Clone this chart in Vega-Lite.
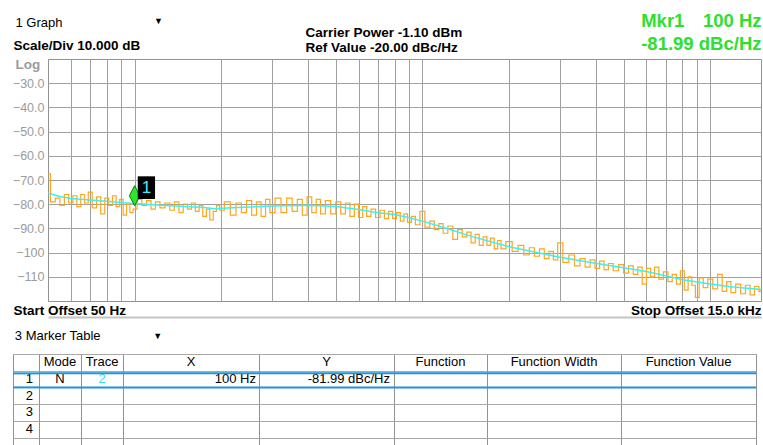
{
  "$schema": "https://vega.github.io/schema/vega-lite/v6.json",
  "background": "white",
  "padding": {"left": 11, "top": 10, "right": 2, "bottom": 0},
  "config": {
    "font": "Liberation Sans",
    "view": {"stroke": "#929292", "strokeWidth": 1},
    "axisBand": {"labels": false, "ticks": false, "domain": false, "grid": true, "tickBand": "extent", "gridColor": "#a8a8a8", "gridOpacity": 1, "minExtent": 0, "maxExtent": 0}
  },
  "datasets": {
    "trace": [
      {"f":50,"db":-67.5},{"f":52,"db":-79},{"f":54,"db":-77.5},{"f":56,"db":-80.5},{"f":58,"db":-76},{"f":60,"db":-79.5},{"f":62,"db":-76.5},{"f":64,"db":-81},{"f":66,"db":-76},{"f":68,"db":-79.5},
      {"f":70,"db":-75},{"f":72.5,"db":-81.5},{"f":75,"db":-77},{"f":77.5,"db":-84},{"f":80,"db":-77.5},{"f":82.5,"db":-80.5},{"f":85,"db":-76.5},{"f":87.5,"db":-81},{"f":90,"db":-78},{"f":92.5,"db":-84.5},
      {"f":95,"db":-80},{"f":97.5,"db":-83.5},{"f":100,"db":-82},{"f":104,"db":-78},{"f":108,"db":-80.5},{"f":112,"db":-78.5},{"f":116,"db":-82},{"f":120,"db":-79},{"f":125,"db":-81.5},{"f":130,"db":-79.5},
      {"f":135,"db":-82.5},{"f":140,"db":-79},{"f":145,"db":-83.5},{"f":150,"db":-80},{"f":155,"db":-82},{"f":160,"db":-79.5},{"f":165,"db":-83},{"f":170,"db":-80.5},{"f":175,"db":-85},{"f":180,"db":-82},
      {"f":185,"db":-86.5},{"f":190,"db":-83},{"f":195,"db":-80.5},{"f":200,"db":-82.5},{"f":210,"db":-79},{"f":220,"db":-84.5},{"f":230,"db":-79.5},{"f":240,"db":-83.5},{"f":250,"db":-78.5},{"f":260,"db":-84.5},
      {"f":270,"db":-79},{"f":280,"db":-85},{"f":290,"db":-78},{"f":300,"db":-83.5},{"f":315,"db":-77.5},{"f":330,"db":-83.5},{"f":345,"db":-77.5},{"f":360,"db":-83},{"f":375,"db":-78},{"f":390,"db":-84.5},
      {"f":405,"db":-77},{"f":420,"db":-83.5},{"f":435,"db":-78},{"f":450,"db":-84},{"f":470,"db":-78.5},{"f":490,"db":-84},{"f":510,"db":-79},{"f":530,"db":-84},{"f":550,"db":-79.5},{"f":570,"db":-85},
      {"f":590,"db":-80},{"f":610,"db":-85.5},{"f":630,"db":-81},{"f":650,"db":-85},{"f":675,"db":-82},{"f":700,"db":-85.5},{"f":725,"db":-82.5},{"f":750,"db":-86},{"f":775,"db":-83},{"f":800,"db":-86},
      {"f":825,"db":-83.5},{"f":850,"db":-87},{"f":875,"db":-84},{"f":900,"db":-87.5},{"f":930,"db":-85},{"f":960,"db":-88.5},{"f":1000,"db":-83},{"f":1040,"db":-89.5},{"f":1080,"db":-87},{"f":1120,"db":-90.5},
      {"f":1160,"db":-88},{"f":1200,"db":-92},{"f":1250,"db":-89},{"f":1300,"db":-94.5},{"f":1350,"db":-90.5},{"f":1400,"db":-93.5},{"f":1450,"db":-91.5},{"f":1500,"db":-96},{"f":1550,"db":-92.5},{"f":1600,"db":-97},
      {"f":1650,"db":-93.5},{"f":1700,"db":-97},{"f":1750,"db":-94},{"f":1800,"db":-98.5},{"f":1850,"db":-95},{"f":1900,"db":-98.5},{"f":2000,"db":-95.5},{"f":2100,"db":-99.5},{"f":2200,"db":-97},{"f":2300,"db":-101},
      {"f":2400,"db":-98},{"f":2500,"db":-101.5},{"f":2600,"db":-98.5},{"f":2700,"db":-102.5},{"f":2800,"db":-99.5},{"f":2900,"db":-103},{"f":3000,"db":-96},{"f":3150,"db":-104},{"f":3300,"db":-101},{"f":3450,"db":-105.5},
      {"f":3600,"db":-102.5},{"f":3750,"db":-106},{"f":3900,"db":-103},{"f":4050,"db":-106.5},{"f":4200,"db":-103.5},{"f":4350,"db":-107},{"f":4500,"db":-104.5},{"f":4700,"db":-107.5},{"f":4900,"db":-105},{"f":5100,"db":-108.5},
      {"f":5300,"db":-105.5},{"f":5500,"db":-109},{"f":5700,"db":-106},{"f":5900,"db":-113},{"f":6100,"db":-106.5},{"f":6300,"db":-110},{"f":6500,"db":-106},{"f":6750,"db":-111},{"f":7000,"db":-108},{"f":7250,"db":-112},
      {"f":7500,"db":-109},{"f":7750,"db":-113},{"f":8000,"db":-107.5},{"f":8250,"db":-115.5},{"f":8500,"db":-110},{"f":8750,"db":-113.5},{"f":9000,"db":-118.5},{"f":9300,"db":-110.5},{"f":9600,"db":-114.5},{"f":10000,"db":-111},
      {"f":10400,"db":-115},{"f":10800,"db":-109},{"f":11200,"db":-116},{"f":11600,"db":-112},{"f":12000,"db":-116.5},{"f":12500,"db":-113},{"f":13000,"db":-117},{"f":13500,"db":-113.5},{"f":14000,"db":-117.5},{"f":14500,"db":-114},
      {"f":15000,"db":-116}
    ],
    "avg": [
      {"f":50,"db":-75.5},{"f":55,"db":-76.8},{"f":60,"db":-77.6},{"f":70,"db":-78.3},{"f":80,"db":-78.8},{"f":90,"db":-79.3},{"f":100,"db":-79.7},{"f":120,"db":-80.3},{"f":150,"db":-80.9},{"f":175,"db":-81.4},
      {"f":190,"db":-81.9},{"f":210,"db":-81.6},{"f":250,"db":-81.2},{"f":300,"db":-80.7},{"f":400,"db":-80.4},{"f":500,"db":-81.0},{"f":600,"db":-82.2},{"f":700,"db":-83.5},{"f":800,"db":-84.3},{"f":900,"db":-85.6},
      {"f":1000,"db":-87.0},{"f":1200,"db":-89.8},{"f":1500,"db":-93.5},{"f":2000,"db":-97.6},{"f":2500,"db":-100.0},{"f":3000,"db":-101.9},{"f":4000,"db":-104.4},{"f":5000,"db":-106.3},{"f":6000,"db":-107.8},{"f":7000,"db":-109.6},
      {"f":8000,"db":-111.2},{"f":10000,"db":-113.0},{"f":12000,"db":-114.2},{"f":15000,"db":-115.2}
    ],
    "marker": [{"f":100,"db":-81.99,"label":"1"}],
    "table": [
      {"row":"H","num":"","mode":"Mode","trace":"Trace","x":"X","y":"Y","fn":"Function","fw":"Function Width","fv":"Function Value"},
      {"row":"1","num":"1","mode":"N","trace":"2","x":"100 Hz","y":"-81.99 dBc/Hz","fn":"","fw":"","fv":""},
      {"row":"2","num":"2","mode":"","trace":"","x":"","y":"","fn":"","fw":"","fv":""},
      {"row":"3","num":"3","mode":"","trace":"","x":"","y":"","fn":"","fw":"","fv":""},
      {"row":"4","num":"4","mode":"","trace":"","x":"","y":"","fn":"","fw":"","fv":""},
      {"row":"5","num":"","mode":"","trace":"","x":"","y":"","fn":"","fw":"","fv":""}
    ]
  },
  "spacing": 10,
  "vconcat": [
    {
      "spacing": 0,
      "bounds": "flush",
      "hconcat": [
        {
          "width": 35, "height": 242, "view": {"stroke": null},
          "data": {"values": [{"pad": ""}]},
          "mark": {"type": "text"},
          "encoding": {"text": {"field": "pad"}}
        },
        {
          "width": 713,
          "height": 242,
          "resolve": {"axis": {"x": "independent", "y": "independent"}},
          "layer": [
            {
              "data": {"name": "trace"},
              "mark": {"type": "line", "interpolate": "step", "color": "#ffa51f", "strokeWidth": 1.2, "clip": true},
              "encoding": {
                "x": {"field": "f", "type": "quantitative", "scale": {"type": "log", "domain": [50, 15000], "nice": false},
                  "axis": {"orient": "bottom", "values": [60,70,80,90,100,200,300,400,500,600,700,800,900,1000,2000,3000,4000,5000,6000,7000,8000,9000,10000],
                    "labels": false, "ticks": false, "domain": false, "grid": true, "gridColor": "#a0a0a0", "gridOpacity": 1,
                    "title": "Start Offset 50 Hz", "titleX": -35, "titleY": 13, "titleAlign": "left", "titleBaseline": "alphabetic", "titleAngle": 0,
                    "titleFontSize": 13.5, "titleFontWeight": "bold", "titleColor": "#000"}},
                "y": {"field": "db", "type": "quantitative", "scale": {"domain": [-120, -20], "nice": false, "zero": false},
                  "axis": {"orient": "left", "values": [-110,-100,-90,-80,-70,-60,-50,-40,-30],
                    "labelExpr": "datum.value <= -100 ? format(datum.value, 'd') : format(datum.value, '.1f')",
                    "ticks": false, "domain": false, "grid": true, "gridColor": "#a0a0a0", "gridOpacity": 1,
                    "labelColor": "#9b9b9b", "labelFontSize": 12.5, "labelPadding": 4,
                    "title": "Log", "titleX": -33, "titleY": 9, "titleAlign": "left", "titleBaseline": "alphabetic", "titleAngle": 0,
                    "titleFontSize": 13.5, "titleFontWeight": "bold", "titleColor": "#9b9b9b"}}
              }
            },
            {
              "data": {"name": "avg"},
              "mark": {"type": "line", "color": "#3ef0f0", "strokeWidth": 1.5, "clip": true},
              "encoding": {
                "x": {"field": "f", "type": "quantitative", "scale": {"type": "log", "domain": [50, 15000], "nice": false},
                  "axis": {"orient": "top", "labels": false, "ticks": false, "domain": false, "grid": false,
                    "title": ["Carrier Power -1.10 dBm", "Ref Value -20.00 dBc/Hz"], "titleX": 257, "titleY": -23, "titleAlign": "left",
                    "titleBaseline": "alphabetic", "titleAngle": 0, "titleLineHeight": 15, "titleFontSize": 13.5, "titleFontWeight": "bold", "titleColor": "#000"}},
                "y": {"field": "db", "type": "quantitative", "scale": {"domain": [-120, -20], "nice": false, "zero": false},
                  "axis": {"orient": "right", "labels": false, "ticks": false, "domain": false, "grid": false,
                    "title": ["Mkr1\u2002\u2002100 Hz", "-81.99 dBc/Hz"], "titleX": 0, "titleY": -33, "titleAlign": "right",
                    "titleBaseline": "alphabetic", "titleAngle": 0, "titleLineHeight": 23.5, "titleFontSize": 18.5, "titleFontWeight": "bold", "titleColor": "#2ee02e"}}
              }
            },
            {
              "data": {"name": "marker"},
              "mark": {"type": "point", "shape": "M0,-2.33L0.53,-1.33L0,-0.33L-0.53,-1.33Z", "filled": true, "size": 400, "fill": "#2ee62e", "stroke": "#0b7a0b", "strokeWidth": 1, "opacity": 1},
              "encoding": {
                "x": {"field": "f", "type": "quantitative", "scale": {"type": "log", "domain": [50, 15000], "nice": false},
                  "axis": {"orient": "bottom", "offset": 16, "labels": false, "ticks": false, "domain": true, "domainColor": "#c4c4c4", "domainWidth": 2, "grid": false,
                    "title": "Stop Offset 15.0 kHz", "titleX": 713, "titleY": -3, "titleAlign": "right", "titleBaseline": "alphabetic", "titleAngle": 0,
                    "titleFontSize": 13.5, "titleFontWeight": "bold", "titleColor": "#000"}},
                "y": {"field": "db", "type": "quantitative", "scale": {"domain": [-120, -20], "nice": false, "zero": false},
                  "axis": {"orient": "left", "labels": false, "ticks": false, "domain": false, "grid": false,
                    "title": "▼", "titleX": 110, "titleY": -36, "titleAlign": "center", "titleBaseline": "alphabetic", "titleAngle": 0,
                    "titleFontSize": 9, "titleFontWeight": "normal", "titleColor": "#000"}}
              }
            },
            {
              "data": {"name": "marker"},
              "mark": {"type": "point", "shape": "M0.31,-3.27L2.04,-3.27L2.04,-1L0.31,-1Z", "filled": true, "size": 400, "fill": "#000", "opacity": 1},
              "encoding": {
                "x": {"field": "f", "type": "quantitative", "scale": {"type": "log", "domain": [50, 15000], "nice": false},
                  "axis": {"orient": "top", "labels": false, "ticks": false, "domain": false, "grid": false,
                    "title": "Scale/Div 10.000 dB", "titleX": -35, "titleY": -10, "titleAlign": "left", "titleBaseline": "alphabetic", "titleAngle": 0,
                    "titleFontSize": 13.5, "titleFontWeight": "bold", "titleColor": "#000"}},
                "y": {"field": "db", "type": "quantitative", "scale": {"domain": [-120, -20], "nice": false, "zero": false}, "axis": null}
              }
            },
            {
              "data": {"name": "marker"},
              "mark": {"type": "text", "color": "#3ff0f5", "fontSize": 17, "dx": 11.8, "dy": -21, "align": "center", "baseline": "middle"},
              "encoding": {
                "text": {"field": "label"},
                "x": {"field": "f", "type": "quantitative", "scale": {"type": "log", "domain": [50, 15000], "nice": false},
                  "axis": {"orient": "top", "labels": false, "ticks": false, "domain": false, "grid": false,
                    "title": "1 Graph", "titleX": -33, "titleY": -33, "titleAlign": "left", "titleBaseline": "alphabetic", "titleAngle": 0,
                    "titleFontSize": 13, "titleFontWeight": "normal", "titleColor": "#000"}},
                "y": {"field": "db", "type": "quantitative", "scale": {"domain": [-120, -20], "nice": false, "zero": false}, "axis": null}
              }
            }
          ]
        }
      ]
    },
    {
      "spacing": 0,
      "bounds": "flush",
      "hconcat": [
        {
          "width": 26, "height": 100.2, "data": {"name": "table"},
          "layer": [
            {"mark": {"type": "text", "fontSize": 13, "align": "right", "dx": -6, "color": "#000"},
             "encoding": {"text": {"field": "num"},
               "x": {"datum": 1, "type": "quantitative", "scale": {"domain": [0, 1]},
                 "axis": {"orient": "top", "labels": false, "ticks": false, "domain": false, "grid": false, "minExtent": 0, "maxExtent": 0,
                   "title": "3 Marker Table", "titleX": 1.3, "titleY": -15, "titleAlign": "left", "titleBaseline": "alphabetic", "titleAngle": 0,
                   "titleFontSize": 13, "titleFontWeight": "normal", "titleColor": "#000"}},
               "y": {"field": "row", "type": "nominal", "scale": {"type": "band", "domain": ["H","1","2","3","4","5"], "paddingInner": 0, "paddingOuter": 0},
                 "axis": {"minExtent": 0, "maxExtent": 0, "title": "▼", "titleX": 144.3, "titleY": -15.5, "titleAlign": "center", "titleBaseline": "alphabetic", "titleAngle": 0, "titleFontSize": 9, "titleFontWeight": "normal", "titleColor": "#000"}}}},
            {"transform": [{"filter": "datum.row === '1'"}], "mark": {"type": "rule", "color": "#1f94d4", "strokeWidth": 2},
             "encoding": {"y": {"field": "row", "type": "nominal", "bandPosition": 0.16, "scale": {"type": "band"},
               "axis": {"minExtent": 0, "maxExtent": 0, "title": "▼", "titleX": 144.3, "titleY": -15.5, "titleAlign": "center", "titleBaseline": "alphabetic", "titleAngle": 0, "titleFontSize": 9, "titleFontWeight": "normal", "titleColor": "#000"}}}},
            {"transform": [{"filter": "datum.row === '1'"}], "mark": {"type": "rule", "color": "#1f94d4", "strokeWidth": 2},
             "encoding": {"y": {"field": "row", "type": "nominal", "bandPosition": 1, "scale": {"type": "band"},
               "axis": {"minExtent": 0, "maxExtent": 0, "title": "▼", "titleX": 144.3, "titleY": -15.5, "titleAlign": "center", "titleBaseline": "alphabetic", "titleAngle": 0, "titleFontSize": 9, "titleFontWeight": "normal", "titleColor": "#000"}}}}
          ]
        },
        {
          "width": 42, "height": 100.2, "data": {"name": "table"},
          "encoding": {"y": {"field": "row", "type": "nominal", "scale": {"type": "band", "domain": ["H","1","2","3","4","5"], "paddingInner": 0, "paddingOuter": 0}, "axis": {"title": null}}},
          "layer": [
            {"mark": {"type": "text", "fontSize": 13, "color": "#000"},
             "encoding": {"text": {"field": "mode"}, "x": {"datum": 0.5, "type": "quantitative", "scale": {"domain": [0, 1]}, "axis": null}}},
            {"transform": [{"filter": "datum.row === '1'"}], "mark": {"type": "rule", "color": "#1f94d4", "strokeWidth": 2},
             "encoding": {"y": {"field": "row", "type": "nominal", "bandPosition": 0.16, "scale": {"type": "band"}, "axis": {"title": null}}}},
            {"transform": [{"filter": "datum.row === '1'"}], "mark": {"type": "rule", "color": "#1f94d4", "strokeWidth": 2},
             "encoding": {"y": {"field": "row", "type": "nominal", "bandPosition": 1, "scale": {"type": "band"}, "axis": {"title": null}}}}
          ]
        },
        {
          "width": 42, "height": 100.2, "data": {"name": "table"},
          "encoding": {"y": {"field": "row", "type": "nominal", "scale": {"type": "band", "domain": ["H","1","2","3","4","5"], "paddingInner": 0, "paddingOuter": 0}, "axis": {"title": null}}},
          "layer": [
            {"mark": {"type": "text", "fontSize": 13},
             "encoding": {"text": {"field": "trace"}, "x": {"datum": 0.5, "type": "quantitative", "scale": {"domain": [0, 1]}, "axis": null},
               "color": {"condition": {"test": "datum.row === 'H'", "value": "#000"}, "value": "#2fe0ee"}}},
            {"transform": [{"filter": "datum.row === '1'"}], "mark": {"type": "rule", "color": "#1f94d4", "strokeWidth": 2},
             "encoding": {"y": {"field": "row", "type": "nominal", "bandPosition": 0.16, "scale": {"type": "band"}, "axis": {"title": null}}}},
            {"transform": [{"filter": "datum.row === '1'"}], "mark": {"type": "rule", "color": "#1f94d4", "strokeWidth": 2},
             "encoding": {"y": {"field": "row", "type": "nominal", "bandPosition": 1, "scale": {"type": "band"}, "axis": {"title": null}}}}
          ]
        },
        {
          "width": 136, "height": 100.2, "data": {"name": "table"},
          "encoding": {"y": {"field": "row", "type": "nominal", "scale": {"type": "band", "domain": ["H","1","2","3","4","5"], "paddingInner": 0, "paddingOuter": 0}, "axis": {"title": null}}},
          "layer": [
            {"transform": [{"filter": "datum.row === 'H'"}], "mark": {"type": "text", "fontSize": 13, "color": "#000"},
             "encoding": {"text": {"field": "x"}, "x": {"datum": 0.5, "type": "quantitative", "scale": {"domain": [0, 1]}, "axis": null}}},
            {"transform": [{"filter": "datum.row !== 'H'"}], "mark": {"type": "text", "fontSize": 13, "color": "#000", "align": "right", "dx": -3},
             "encoding": {"text": {"field": "x"}, "x": {"datum": 1, "type": "quantitative", "scale": {"domain": [0, 1]}, "axis": null}}},
            {"transform": [{"filter": "datum.row === '1'"}], "mark": {"type": "rule", "color": "#1f94d4", "strokeWidth": 2},
             "encoding": {"y": {"field": "row", "type": "nominal", "bandPosition": 0.16, "scale": {"type": "band"}, "axis": {"title": null}}}},
            {"transform": [{"filter": "datum.row === '1'"}], "mark": {"type": "rule", "color": "#1f94d4", "strokeWidth": 2},
             "encoding": {"y": {"field": "row", "type": "nominal", "bandPosition": 1, "scale": {"type": "band"}, "axis": {"title": null}}}}
          ]
        },
        {
          "width": 135, "height": 100.2, "data": {"name": "table"},
          "encoding": {"y": {"field": "row", "type": "nominal", "scale": {"type": "band", "domain": ["H","1","2","3","4","5"], "paddingInner": 0, "paddingOuter": 0}, "axis": {"title": null}}},
          "layer": [
            {"transform": [{"filter": "datum.row === 'H'"}], "mark": {"type": "text", "fontSize": 13, "color": "#000"},
             "encoding": {"text": {"field": "y"}, "x": {"datum": 0.5, "type": "quantitative", "scale": {"domain": [0, 1]}, "axis": null}}},
            {"transform": [{"filter": "datum.row !== 'H'"}], "mark": {"type": "text", "fontSize": 13, "color": "#000", "align": "right", "dx": -4},
             "encoding": {"text": {"field": "y"}, "x": {"datum": 1, "type": "quantitative", "scale": {"domain": [0, 1]}, "axis": null}}},
            {"transform": [{"filter": "datum.row === '1'"}], "mark": {"type": "rule", "color": "#1f94d4", "strokeWidth": 2},
             "encoding": {"y": {"field": "row", "type": "nominal", "bandPosition": 0.16, "scale": {"type": "band"}, "axis": {"title": null}}}},
            {"transform": [{"filter": "datum.row === '1'"}], "mark": {"type": "rule", "color": "#1f94d4", "strokeWidth": 2},
             "encoding": {"y": {"field": "row", "type": "nominal", "bandPosition": 1, "scale": {"type": "band"}, "axis": {"title": null}}}}
          ]
        },
        {
          "width": 93, "height": 100.2, "data": {"name": "table"},
          "encoding": {"y": {"field": "row", "type": "nominal", "scale": {"type": "band", "domain": ["H","1","2","3","4","5"], "paddingInner": 0, "paddingOuter": 0}, "axis": {"title": null}}},
          "layer": [
            {"mark": {"type": "text", "fontSize": 13, "color": "#000"},
             "encoding": {"text": {"field": "fn"}, "x": {"datum": 0.5, "type": "quantitative", "scale": {"domain": [0, 1]}, "axis": null}}},
            {"transform": [{"filter": "datum.row === '1'"}], "mark": {"type": "rule", "color": "#1f94d4", "strokeWidth": 2},
             "encoding": {"y": {"field": "row", "type": "nominal", "bandPosition": 0.16, "scale": {"type": "band"}, "axis": {"title": null}}}},
            {"transform": [{"filter": "datum.row === '1'"}], "mark": {"type": "rule", "color": "#1f94d4", "strokeWidth": 2},
             "encoding": {"y": {"field": "row", "type": "nominal", "bandPosition": 1, "scale": {"type": "band"}, "axis": {"title": null}}}}
          ]
        },
        {
          "width": 134, "height": 100.2, "data": {"name": "table"},
          "encoding": {"y": {"field": "row", "type": "nominal", "scale": {"type": "band", "domain": ["H","1","2","3","4","5"], "paddingInner": 0, "paddingOuter": 0}, "axis": {"title": null}}},
          "layer": [
            {"mark": {"type": "text", "fontSize": 13, "color": "#000"},
             "encoding": {"text": {"field": "fw"}, "x": {"datum": 0.5, "type": "quantitative", "scale": {"domain": [0, 1]}, "axis": null}}},
            {"transform": [{"filter": "datum.row === '1'"}], "mark": {"type": "rule", "color": "#1f94d4", "strokeWidth": 2},
             "encoding": {"y": {"field": "row", "type": "nominal", "bandPosition": 0.16, "scale": {"type": "band"}, "axis": {"title": null}}}},
            {"transform": [{"filter": "datum.row === '1'"}], "mark": {"type": "rule", "color": "#1f94d4", "strokeWidth": 2},
             "encoding": {"y": {"field": "row", "type": "nominal", "bandPosition": 1, "scale": {"type": "band"}, "axis": {"title": null}}}}
          ]
        },
        {
          "width": 135, "height": 100.2, "data": {"name": "table"},
          "encoding": {"y": {"field": "row", "type": "nominal", "scale": {"type": "band", "domain": ["H","1","2","3","4","5"], "paddingInner": 0, "paddingOuter": 0}, "axis": {"title": null}}},
          "layer": [
            {"mark": {"type": "text", "fontSize": 13, "color": "#000"},
             "encoding": {"text": {"field": "fv"}, "x": {"datum": 0.5, "type": "quantitative", "scale": {"domain": [0, 1]}, "axis": null}}},
            {"transform": [{"filter": "datum.row === '1'"}], "mark": {"type": "rule", "color": "#1f94d4", "strokeWidth": 2},
             "encoding": {"y": {"field": "row", "type": "nominal", "bandPosition": 0.16, "scale": {"type": "band"}, "axis": {"title": null}}}},
            {"transform": [{"filter": "datum.row === '1'"}], "mark": {"type": "rule", "color": "#1f94d4", "strokeWidth": 2},
             "encoding": {"y": {"field": "row", "type": "nominal", "bandPosition": 1, "scale": {"type": "band"}, "axis": {"title": null}}}}
          ]
        }
      ]
    }
  ]
}
